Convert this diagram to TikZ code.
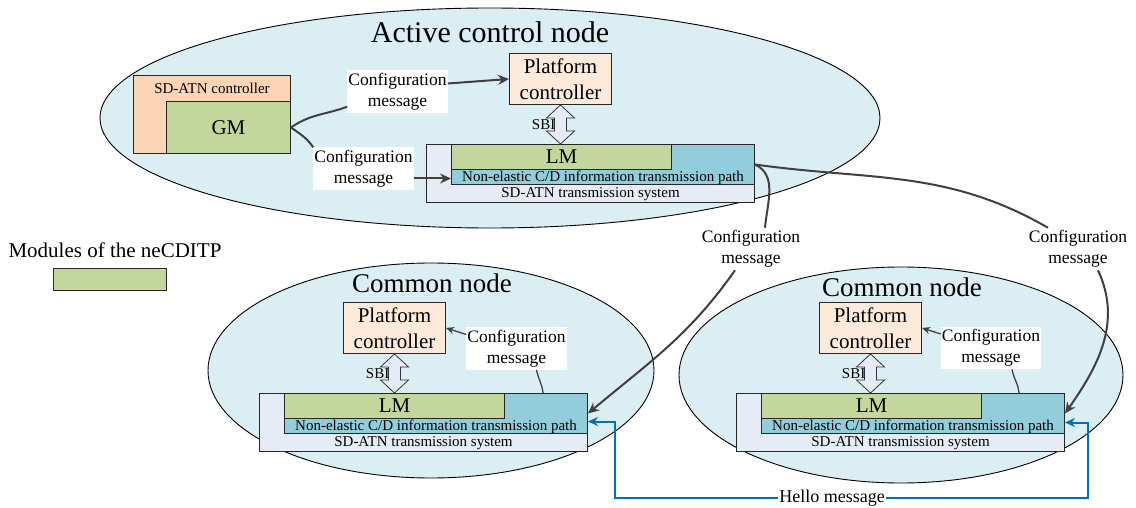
\documentclass[tikz,border=0pt]{standalone}
\usepackage{fontspec}
\setmainfont{Liberation Serif}
\usetikzlibrary{arrows.meta,calc}

\definecolor{nodefill}{HTML}{DAEEF3}
\definecolor{sysfill}{HTML}{E6ECF5}
\definecolor{pathfill}{HTML}{92CDDC}
\definecolor{modfill}{HTML}{C3D69B}
\definecolor{ctrlfill}{HTML}{FBD5B5}
\definecolor{pcfill}{HTML}{FDEADA}
\definecolor{msgline}{HTML}{404040}
\definecolor{hellocol}{HTML}{0070C0}

\newcommand\fs[2]{\fontsize{#1}{#2}\selectfont}

\tikzset{
  nodeell/.style={draw=black, line width=0.9pt, fill=nodefill},
  box/.style={draw=black!85, line width=1pt, rectangle, inner sep=0pt, anchor=north west},
  pcbox/.style={box, fill=pcfill, minimum width=102pt, minimum height=51pt},
  pctext/.style={align=center, font=\fs{21}{26}},
  msg/.style={fill=white, inner xsep=1pt, inner ysep=2.5pt, align=center, font=\fs{17.5}{21}},
  cfgline/.style={draw=msgline, line width=2pt},
  cfgarrow/.style={cfgline, -{Stealth[length=11pt,width=10pt]}},
  cfgthin/.style={draw=msgline, line width=1.3pt},
  cfgthinarrow/.style={cfgthin, -{Stealth[length=8pt,width=7pt]}},
  hello/.style={draw=hellocol, line width=2pt, -{Stealth[length=10pt,width=9pt]}},
  small/.style={font=\fs{15}{17}},
}

% SD-ATN transmission system with its path and LM module; #1 name, (#2,#3) top left corner
\newcommand\tsys[3]{%
  \node[box, fill=sysfill, minimum width=328pt, minimum height=58pt] (#1-out) at (#2,-#3) {};
  \node[box, fill=pathfill, minimum width=303pt, minimum height=40pt] (#1-path) at ($(#1-out.north west)+(25,0)$) {};
  \node[box, fill=modfill, minimum width=220pt, minimum height=25pt] (#1-lm) at (#1-path.north west) {};
  \node[font=\fs{21}{24}] at (#1-lm.center) {LM};
  \node[small] at ($(#1-path.south)+(0,7.5)$) {Non-elastic C/D information transmission path};
  \node[small] at ($(#1-out.south)+(0,9)$) {SD-ATN transmission system};
}

% SBI double arrow between a platform controller (#1) and a transmission system (#2)
\newcommand\sbi[2]{%
  \filldraw[draw=black!80, line width=0.8pt, fill=sysfill]
    let \p1=(#1.south), \p2=(#2.north) in
    (\x1,\y1) -- (\x1+14pt,\y1-13pt) -- (\x1+6pt,\y1-13pt) -- (\x1+6pt,\y2+13pt)
    -- (\x1+14pt,\y2+13pt) -- (\x1,\y2) -- (\x1-14pt,\y2+13pt) -- (\x1-6pt,\y2+13pt)
    -- (\x1-6pt,\y1-13pt) -- (\x1-14pt,\y1-13pt) -- cycle;
  \path let \p1=(#1.south), \p2=(#2.north) in
    node[small, anchor=east, inner sep=0pt] at (\x1-5pt,{(\y1+\y2)/2}) {SBI};
}

\begin{document}
\begin{tikzpicture}[x=1pt,y=1pt]
\fill[white] (0,0) rectangle (1136,-508);
\useasboundingbox (0,0) rectangle (1136,-508);

% node areas
\fill[nodeell] (490,-118) ellipse [x radius=390, y radius=110];
\fill[nodeell] (431,-370.5) ellipse [x radius=223, y radius=107.5];
\fill[nodeell] (901,-375) ellipse [x radius=222, y radius=108];

\node[font=\fs{30}{32}] (tacn) at (490,-32) {Active control node};
\node[font=\fs{27}{30}] (tcl) at (432,-283) {Common node};
\node[font=\fs{27}{30}] (tcr) at (902,-287) {Common node};

% active control node
\node[box, fill=ctrlfill, minimum width=157pt, minimum height=78pt] (ctrl) at (133,-75) {};
\node[box, fill=modfill, minimum width=124pt, minimum height=52pt] (gm) at (166,-101) {};
\node[small] at (212,-88) {SD-ATN controller};
\node[font=\fs{21}{24}] at (gm.center) {GM};

\node[pcbox] (tpc) at (509,-53) {};
\node[pctext] at (tpc.center) {Platform\\controller};
\tsys{T}{426}{144}
\sbi{tpc}{T-out}

% common nodes
\node[pcbox] (lpc) at (343,-302) {};
\node[pctext] at (lpc.center) {Platform\\controller};
\tsys{L}{259}{393}
\sbi{lpc}{L-out}

\node[pcbox] (rpc) at (819,-302) {};
\node[pctext] at (rpc.center) {Platform\\controller};
\tsys{R}{736}{393}
\sbi{rpc}{R-out}

% legend
\node[font=\fs{21}{24}] (legtext) at (115,-250) {Modules of the neCDITP};
\node[box, fill=modfill, minimum width=113pt, minimum height=22pt] (legbox) at (53,-268) {};

% message labels
\node[msg] (lt1) at (397.5,-91.5) {Configuration\\message};
\node[msg] (lt2) at (363.5,-168.5) {Configuration\\message};
\node[msg] (lml) at (751,-249) {Configuration\\message};
\node[msg] (lmr) at (1078,-249) {Configuration\\message};
\node[msg] (lcl) at (516.5,-348.5) {Configuration\\message};
\node[msg] (lcr) at (991,-348) {Configuration\\message};

% configuration messages from the GM
\draw[cfgline] (gm.east) to[out=35,in=200] ([yshift=6pt]lt1.south west);
\draw[cfgarrow] ([yshift=8pt]lt1.east) -- (tpc.west);
\draw[cfgline] (gm.east) to[out=-35,in=125] (lt2.north west);
\coordinate (lt2out) at ([yshift=-10pt]lt2.east);
\draw[cfgarrow] (lt2out) -- (lt2out -| T-path.west);

% configuration messages to the common nodes
\draw[cfgline] (T-path.east) to[out=-25,in=85] ([xshift=14pt]lml.north);
\draw[cfgarrow] ([xshift=-16pt]lml.south) to[out=-125,in=40] (L-path.east);
\draw[cfgline] (T-path.east) to[out=-8,in=150] ([xshift=-30pt]lmr.north);
\draw[cfgarrow] ([xshift=20pt]lmr.south) to[out=-65,in=55] (R-path.east);

% configuration messages inside the common nodes
\draw[cfgthin] ([xshift=-45pt]L-path.north east) to[out=95,in=-80] ([xshift=20pt]lcl.south);
\draw[cfgthinarrow] ([yshift=14pt]lcl.west) -- (lpc.east);
\draw[cfgthin] ([xshift=-46pt]R-path.north east) to[out=95,in=-80] ([xshift=21pt]lcr.south);
\draw[cfgthinarrow] ([yshift=14pt]lcr.west) -- (rpc.east);

% hello message between the common nodes
\node[font=\fs{18}{20}, inner xsep=1pt, inner ysep=1pt] (hm) at (832,-498) {Hello message};
\draw[hello] (hm.west) -| ([xshift=27pt,yshift=-8pt]L-path.east) -- ([yshift=-8pt]L-path.east);
\draw[hello] (hm.east) -| ([xshift=23pt,yshift=-9pt]R-path.east) -- ([yshift=-9pt]R-path.east);
\end{tikzpicture}
\end{document}
